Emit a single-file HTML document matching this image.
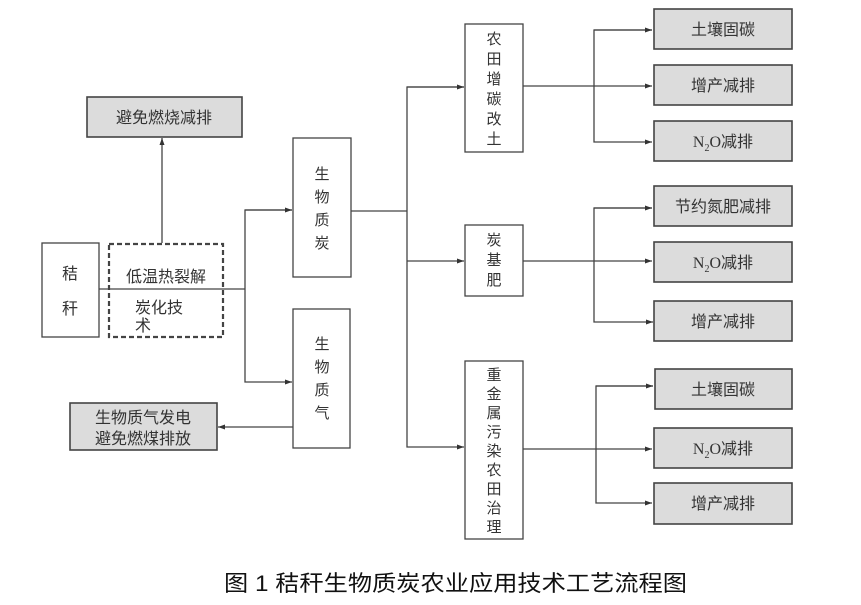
<!DOCTYPE html>
<html><head><meta charset="utf-8"><style>
html,body{margin:0;padding:0;background:#fff;}
svg{display:block;}
text{font-family:"Liberation Sans","Noto Sans CJK SC",sans-serif;fill:#333;}
</style></head><body>
<svg width="861" height="605" viewBox="0 0 861 605" xmlns="http://www.w3.org/2000/svg">
<defs><marker id="a" markerWidth="8" markerHeight="8" refX="7" refY="4" orient="auto" markerUnits="userSpaceOnUse"><path d="M0,1.5 L7,4 L0,6.5 z" fill="#333"/></marker></defs>
<g stroke="#444" stroke-width="1.3" fill="none">
<!-- left -->
<rect x="42" y="243" width="57" height="94" fill="#fff"/>
<rect x="109" y="244" width="114" height="93" stroke-dasharray="5,3" stroke-width="2.2"/>
<rect x="87" y="97" width="155" height="40" fill="#dcdcdc" stroke-width="1.6"/>
<rect x="70" y="403" width="147" height="47" fill="#dcdcdc" stroke-width="1.6"/>
<line x1="162" y1="243" x2="162" y2="138" marker-end="url(#a)"/>
<line x1="99" y1="289" x2="245" y2="289"/>
<polyline points="292,210 245,210 245,382 292,382" marker-end="url(#a)"/>
<line x1="245" y1="210" x2="292" y2="210" marker-end="url(#a)"/>
<rect x="293" y="138" width="58" height="139" fill="#fff"/>
<rect x="293" y="309" width="57" height="139" fill="#fff"/>
<line x1="293" y1="427" x2="218" y2="427" marker-end="url(#a)"/>
<!-- middle -->
<line x1="351" y1="211" x2="407" y2="211"/>
<polyline points="464,87 407,87 407,447 464,447" marker-end="url(#a)"/>
<line x1="407" y1="87" x2="464" y2="87" marker-end="url(#a)"/>
<line x1="407" y1="261" x2="464" y2="261" marker-end="url(#a)"/>
<rect x="465" y="24" width="58" height="128" fill="#fff"/>
<rect x="465" y="225" width="58" height="71" fill="#fff"/>
<rect x="465" y="361" width="58" height="178" fill="#fff"/>
<!-- right groups -->
<line x1="523" y1="86" x2="652" y2="86" marker-end="url(#a)"/>
<polyline points="652,30 594,30 594,142 652,142" marker-end="url(#a)"/>
<line x1="594" y1="30" x2="652" y2="30" marker-end="url(#a)"/>
<line x1="523" y1="261" x2="652" y2="261" marker-end="url(#a)"/>
<polyline points="652,208 594,208 594,322 653,322" marker-end="url(#a)"/>
<line x1="594" y1="208" x2="652" y2="208" marker-end="url(#a)"/>
<line x1="523" y1="449" x2="652" y2="449" marker-end="url(#a)"/>
<polyline points="653,386 596,386 596,503 652,503" marker-end="url(#a)"/>
<line x1="596" y1="386" x2="653" y2="386" marker-end="url(#a)"/>
<g fill="#dcdcdc" stroke-width="1.6">
<rect x="654" y="9" width="138" height="40"/>
<rect x="654" y="65" width="138" height="40"/>
<rect x="654" y="121" width="138" height="40"/>
<rect x="654" y="186" width="138" height="40"/>
<rect x="654" y="242" width="138" height="40"/>
<rect x="654" y="301" width="138" height="40"/>
<rect x="655" y="369" width="137" height="40"/>
<rect x="654" y="428" width="138" height="40"/>
<rect x="654" y="483" width="138" height="41"/>
</g>
</g>
<g font-size="16" text-anchor="middle">
<text x="164" y="123">避免燃烧减排</text>
<text x="143" y="423">生物质气发电</text>
<text x="143" y="444">避免燃煤排放</text>
<text x="70" y="279">秸</text><text x="70" y="314">秆</text>
<text x="166" y="282">低温热裂解</text>
<text x="135" y="313" text-anchor="start">炭化技</text>
<text x="135" y="331" text-anchor="start">术</text>
<g font-size="15">
<text x="322" y="179">生</text><text x="322" y="202">物</text><text x="322" y="225">质</text><text x="322" y="248">炭</text>
<text x="322" y="349">生</text><text x="322" y="372">物</text><text x="322" y="395">质</text><text x="322" y="418">气</text>
<text x="494" y="44">农</text><text x="494" y="64">田</text><text x="494" y="84">增</text><text x="494" y="104">碳</text><text x="494" y="124">改</text><text x="494" y="144">土</text>
<text x="494" y="245">炭</text><text x="494" y="265">基</text><text x="494" y="285">肥</text>
<text x="494" y="380">重</text><text x="494" y="399">金</text><text x="494" y="418">属</text><text x="494" y="437">污</text><text x="494" y="456">染</text><text x="494" y="475">农</text><text x="494" y="494">田</text><text x="494" y="513">治</text><text x="494" y="532">理</text>
</g>
<text x="723" y="35">土壤固碳</text>
<text x="723" y="91">增产减排</text>
<text x="723" y="147"><tspan font-family="Liberation Serif">N</tspan><tspan font-family="Liberation Serif" font-size="10" dy="4">2</tspan><tspan font-family="Liberation Serif" dy="-4">O</tspan>减排</text>
<text x="723" y="212">节约氮肥减排</text>
<text x="723" y="268"><tspan font-family="Liberation Serif">N</tspan><tspan font-family="Liberation Serif" font-size="10" dy="4">2</tspan><tspan font-family="Liberation Serif" dy="-4">O</tspan>减排</text>
<text x="723" y="327">增产减排</text>
<text x="723" y="395">土壤固碳</text>
<text x="723" y="454"><tspan font-family="Liberation Serif">N</tspan><tspan font-family="Liberation Serif" font-size="10" dy="4">2</tspan><tspan font-family="Liberation Serif" dy="-4">O</tspan>减排</text>
<text x="723" y="509">增产减排</text>
</g>
<text x="224" y="591" font-size="22" textLength="463" lengthAdjust="spacingAndGlyphs" style="fill:#111">图 1 秸秆生物质炭农业应用技术工艺流程图</text>
</svg>
</body></html>
